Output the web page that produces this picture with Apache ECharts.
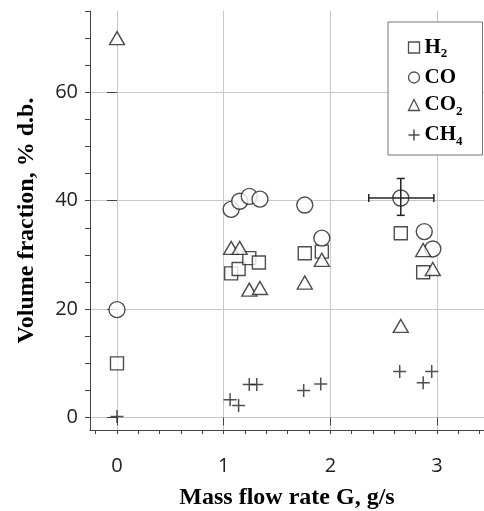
<!DOCTYPE html>
<html>
<head>
<meta charset="utf-8">
<script src="https://cdn.jsdelivr.net/npm/echarts@6/dist/echarts.min.js"></script>
<style>
  html, body { margin: 0; padding: 0; background: #fff; }
  #main { width: 484px; height: 511px; }
</style>
</head>
<body>
<div id="main"></div>
<script>
// values
const h2X = [0, 1.07, 1.14, 1.24, 1.33, 1.76, 1.92, 2.66, 2.87];
const h2Y = [10, 26.6, 27.4, 29.4, 28.6, 30.3, 30.6, 34.0, 26.8];
const coX = [0, 1.07, 1.15, 1.24, 1.34, 1.76, 1.92, 2.66, 2.88, 2.96];
const coY = [19.9, 38.4, 39.9, 40.8, 40.3, 39.2, 33.1, 40.5, 34.3, 31.1];
const co2X = [0, 1.07, 1.15, 1.24, 1.34, 1.76, 1.92, 2.66, 2.87, 2.96];
const co2Y = [70, 31.3, 31.3, 23.6, 23.9, 24.9, 29.1, 16.9, 30.9, 27.4];
const ch4X = [0, 1.06, 1.14, 1.24, 1.31, 1.75, 1.91, 2.65, 2.87, 2.95];
const ch4Y = [0.2, 3.3, 2.2, 6.1, 6.1, 5.0, 6.2, 8.5, 6.4, 8.5];
// error bar: x, y, xLow, xHigh, yLow, yHigh
const errBar = [[2.66, 40.5, 2.36, 2.97, 37.3, 44.1]];

const xLabels = [0, 1, 2, 3];
const xMinor = [-0.2, 0, 0.2, 0.4, 0.6, 0.8, 1, 1.2, 1.4, 1.6, 1.8, 2, 2.2, 2.4, 2.6, 2.8, 3, 3.2, 3.4];
const yLabels = [0, 20, 40, 60];
const yMinor = [0, 5, 10, 15, 20, 25, 30, 35, 40, 45, 50, 55, 60, 65, 70, 75];

const pairs = (xs, ys) => xs.map((x, i) => [x, ys[i]]);

const XMIN = -0.253, XMAX = 3.44, YMIN = -2.3, YMAX = 75;
const serif = '"Liberation Serif", "Times New Roman", serif';
const ink = '#222';

const markStyle = { color: '#fff', borderColor: ink, borderWidth: 1.4 };
const plusPath = 'path://M0,5L10,5M5,0L5,10';

const subNames = {
  'H2': '{a|H}{b|2}',
  'CO': '{a|CO}',
  'CO2': '{a|CO}{b|2}',
  'CH4': '{a|CH}{b|4}'
};

const chart = echarts.init(document.getElementById('main'));
chart.setOption({
  animation: false,
  grid: { left: 90, right: 0, top: 11, bottom: 81, outerBoundsMode: 'none' },
  legend: {
    orient: 'vertical',
    left: 388,
    top: 22,
    padding: [15, 20, 7, 18],
    itemGap: 6.5,
    itemWidth: 11,
    itemHeight: 11,
    itemTextGap: 14,
    borderColor: '#777',
    borderWidth: 1,
    backgroundColor: '#fff',
    formatter: name => subNames[name],
    textStyle: {
      rich: {
        a: { fontFamily: serif, fontWeight: 'bold', fontSize: 21, lineHeight: 26, color: '#000' },
        b: { fontFamily: serif, fontWeight: 'bold', fontSize: 13, lineHeight: 15, verticalAlign: 'bottom', color: '#000' }
      }
    },
    data: [
      { name: 'H2', itemStyle: { borderWidth: 1.3 } },
      { name: 'CO', itemStyle: { borderWidth: 1.3 } },
      { name: 'CO2', itemStyle: { borderWidth: 1.3 } },
      { name: 'CH4', itemStyle: { borderWidth: 1.5 } }
    ]
  },
  xAxis: [
    {
      type: 'value', min: XMIN, max: XMAX,
      name: 'Mass flow rate G, g/s',
      nameLocation: 'middle',
      nameGap: 56,
      nameTextStyle: { fontFamily: serif, fontWeight: 'bold', fontSize: 24, color: '#000' },
      axisLine: { show: true, onZero: false, lineStyle: { color: '#444', width: 1 } },
      axisTick: { show: true, customValues: xMinor, length: 4, lineStyle: { color: '#444' } },
      axisLabel: { customValues: xLabels, margin: 26, fontFamily: '"Open Sans"', fontSize: 20, color: ink },
      splitLine: { show: false }
    },
    {
      type: 'value', min: XMIN, max: XMAX, position: 'bottom',
      axisLine: { show: false },
      axisTick: { show: true, customValues: xLabels, length: 8, lineStyle: { color: '#444' } },
      axisLabel: { show: false },
      splitLine: { show: true, lineStyle: { color: '#c8c8c8', width: 1 } }
    }
  ],
  yAxis: [
    {
      type: 'value', min: YMIN, max: YMAX,
      name: 'Volume fraction, % d.b.',
      nameLocation: 'middle',
      nameGap: 51,
      nameTextStyle: { fontFamily: serif, fontWeight: 'bold', fontSize: 24, color: '#000' },
      axisLine: { show: true, onZero: false, lineStyle: { color: '#444', width: 1 } },
      axisTick: { show: true, customValues: yMinor, length: 5, lineStyle: { color: '#444' } },
      axisLabel: { customValues: yLabels, margin: 12, fontFamily: '"Open Sans"', fontSize: 20, color: ink },
      splitLine: { show: false }
    },
    {
      type: 'value', min: YMIN, max: YMAX, position: 'left',
      axisLine: { show: false },
      axisTick: { show: true, customValues: yLabels, length: 10, lineStyle: { color: '#444' } },
      axisLabel: { show: false },
      splitLine: { show: true, lineStyle: { color: '#c8c8c8', width: 1 } }
    }
  ],
  series: [
    {
      name: 'H2', type: 'scatter', symbol: 'rect', symbolSize: 13,
      itemStyle: markStyle, data: pairs(h2X, h2Y)
    },
    {
      name: 'CO', type: 'scatter', symbol: 'circle', symbolSize: 16,
      itemStyle: markStyle, data: pairs(coX, coY)
    },
    {
      name: 'CO2', type: 'scatter', symbol: 'triangle', symbolSize: [15, 13],
      itemStyle: markStyle, data: pairs(co2X, co2Y)
    },
    {
      name: 'CH4', type: 'scatter', symbol: plusPath, symbolSize: 13,
      itemStyle: { color: 'none', borderColor: ink, borderWidth: 1.5 },
      data: pairs(ch4X, ch4Y)
    },
    {
      type: 'custom', z: 10, silent: true,
      renderItem: (params, api) => {
        const c = api.coord([api.value(0), api.value(1)]);
        const xl = api.coord([api.value(2), api.value(1)]);
        const xh = api.coord([api.value(3), api.value(1)]);
        const yl = api.coord([api.value(0), api.value(4)]);
        const yh = api.coord([api.value(0), api.value(5)]);
        const st = { stroke: ink, lineWidth: 1.5 };
        const cap = 4;
        const line = (x1, y1, x2, y2) => ({ type: 'line', shape: { x1, y1, x2, y2 }, style: st });
        return {
          type: 'group',
          children: [
            line(xl[0], c[1], xh[0], c[1]),
            line(xl[0], c[1] - cap, xl[0], c[1] + cap),
            line(xh[0], c[1] - cap, xh[0], c[1] + cap),
            line(c[0], yl[1], c[0], yh[1]),
            line(c[0] - cap, yl[1], c[0] + cap, yl[1]),
            line(c[0] - cap, yh[1], c[0] + cap, yh[1])
          ]
        };
      },
      data: errBar
    }
  ]
});
</script>
</body>
</html>
